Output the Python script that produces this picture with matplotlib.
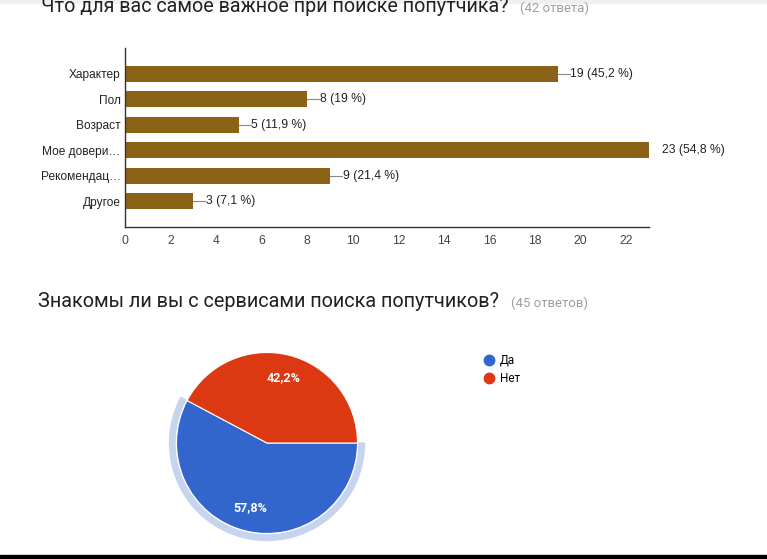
import matplotlib
matplotlib.use('Agg')
import matplotlib.pyplot as plt
from matplotlib.patches import Wedge, Rectangle
from matplotlib.lines import Line2D

# данные первого вопроса (столбчатая диаграмма)
categories = ['Характер', 'Пол', 'Возраст', 'Мое довери…', 'Рекомендац…', 'Другое']
counts = [19, 8, 5, 23, 9, 3]
percents = ['45,2', '19', '11,9', '54,8', '21,4', '7,1']
bar_total = 42
x_ticks = [0, 2, 4, 6, 8, 10, 12, 14, 16, 18, 20, 22]

# данные второго вопроса (круговая диаграмма)
pie_labels = ['Да', 'Нет']
pie_counts = [26, 19]
pie_total = 45

W, H = 767, 559
BROWN = '#8b6316'
PIE_COLORS = ['#3366cc', '#dc3912']

fig = plt.figure(figsize=(W / 100, H / 100), dpi=100)
fig.patch.set_facecolor('white')

def fx(px):
    return px / W

def fy(py):
    return 1 - py / H

# полоска сверху и черная полоса снизу (как на скриншоте)
fig.patches.append(Rectangle((0, fy(3)), 1, 3 / H, transform=fig.transFigure,
                             color='#f0f0f0', zorder=0))
fig.patches.append(Rectangle((0, 0), 1, 4 / H, transform=fig.transFigure,
                             color='black', zorder=5))

# заголовки (верхний обрезан краем, как на скриншоте)
fig.text(fx(41), fy(12), 'Что для вас самое важное при поиске попутчика?',
         family='Roboto', fontsize=14.2, color='#212121', va='baseline')
fig.text(fx(520), fy(12), f'({bar_total} ответа)', family='Roboto',
         fontsize=9.5, color='#9e9e9e', va='baseline')
fig.text(fx(38), fy(307), 'Знакомы ли вы с сервисами поиска попутчиков?',
         family='Roboto', fontsize=14.35, color='#212121', va='baseline')
fig.text(fx(511), fy(307), f'({pie_total} ответов)', family='Roboto',
         fontsize=9.5, color='#9e9e9e', va='baseline')

# --- столбчатая диаграмма ---
ax = fig.add_axes([fx(125), fy(227), fx(649) - fx(125), (227 - 48) / H])
ypos = list(range(len(categories)))
ax.barh(ypos, counts, height=0.63, color=BROWN, zorder=2)
ax.set_ylim(len(categories), -1)
ax.set_xlim(0, 23)
ax.set_yticks(ypos)
ax.set_yticklabels(categories, family='Liberation Sans', fontsize=8.6, color='#222222')
ax.set_xticks(x_ticks)
ax.set_xticklabels([str(t) for t in x_ticks], family='Liberation Sans',
                   fontsize=8.7, color='#444444')
ax.tick_params(length=0)
ax.tick_params(axis='y', pad=3)
ax.tick_params(axis='x', pad=6)
for s in ['top', 'right']:
    ax.spines[s].set_visible(False)
for s in ['left', 'bottom']:
    ax.spines[s].set_color('#333333')
    ax.spines[s].set_linewidth(1)

# подписи значений с выносной линией
lead = 0.53
for y, c, p in zip(ypos, counts, percents):
    ax.plot([c, c + lead], [y, y], color='#888888', lw=0.8, zorder=1)
    ax.text(c + lead + 0.02, y, f'{c} ({p} %)', family='Liberation Sans',
            fontsize=8.7, color='#222222', va='center', ha='left', clip_on=False)

# --- круговая диаграмма ---
cx, cy, half = 267, 443, 105
ax2 = fig.add_axes([fx(cx - half), fy(cy + half), 2 * half / W, 2 * half / H])
R = 90.5
wedges, _, autotexts = ax2.pie(
    pie_counts, radius=R, startangle=0, counterclock=False, colors=PIE_COLORS,
    autopct=lambda p: f'{p:.1f}%'.replace('.', ','), pctdistance=0.74,
    wedgeprops=dict(edgecolor='white', linewidth=0.8),
    textprops=dict(color='white', family='Roboto', fontsize=9, fontweight='bold'))
# подсветка выбранного сектора «Да»
end_angle = 360 - 360 * pie_counts[0] / sum(pie_counts)
ax2.add_patch(Wedge((0, 0), R + 7, end_angle, 360, width=5.5,
                    color='#c6d4ef', zorder=0))
ax2.set_xlim(-half, half)
ax2.set_ylim(-half, half)
ax2.set_aspect('equal')
ax2.axis('off')

handles = [Line2D([], [], marker='o', linestyle='', markersize=7.5,
                  markerfacecolor=col, markeredgecolor=col) for col in PIE_COLORS]
fig.legend(handles, pie_labels, loc='upper left', bbox_to_anchor=(fx(476), fy(348)),
           frameon=False, handletextpad=0.35, labelspacing=0.45, borderpad=0,
           handlelength=1.2, prop=dict(family='Roboto', size=8.5))

fig.savefig('out.png', dpi=100)
